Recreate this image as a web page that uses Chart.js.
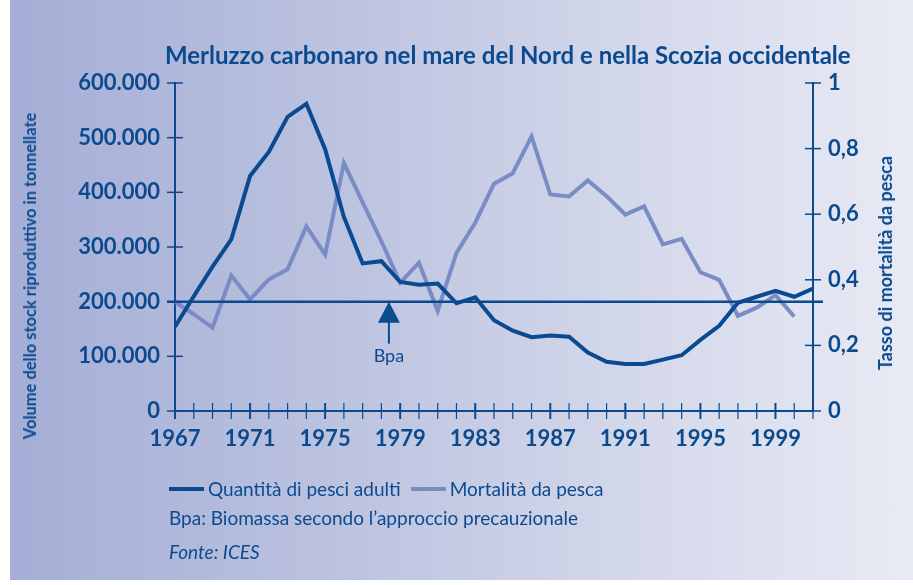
<!DOCTYPE html>
<html>
<head>
<meta charset="utf-8">
<script src="https://cdn.jsdelivr.net/npm/chart.js@4/dist/chart.umd.min.js"></script>
<style>
  html, body { margin: 0; padding: 0; background: #fff; }
  #wrap { position: relative; width: 913px; height: 585px; overflow: hidden;
          font-family: Lato, "Open Sans", sans-serif; color: #0b4a8f; }
  #panel { position: absolute; left: 10px; top: 0; width: 903px; height: 580px;
           background: linear-gradient(to right, #a4aed6 0%, #bbc2df 35%, #d3d7ea 68%, #e8eaf4 100%); }
  #chart { position: absolute; left: 0; top: 0; }
  .title { position: absolute; left: 165px; top: 40px; font-size: 24px; font-weight: 700; white-space: nowrap; }
  .ytitle { position: absolute; font-weight: 700; white-space: nowrap;
            transform: translate(-50%, -50%) rotate(-90deg); }
  #legend { position: absolute; left: 169px; top: 477px; display: flex; align-items: center;
            font-size: 19px; white-space: nowrap; }
  #legend .sw { display: inline-block; width: 35px; height: 4px; margin-right: 4px; }
  #legend .item { display: flex; align-items: center; margin-right: 10px; }
  .note { position: absolute; left: 169px; font-size: 19px; white-space: nowrap; }
</style>
</head>
<body>
<div id="wrap">
  <div id="panel"></div>
  <canvas id="chart" width="913" height="585"></canvas>
  <div class="title">Merluzzo carbonaro nel mare del Nord e nella Scozia occidentale</div>
  <div class="ytitle" style="left:30px; top:276px; font-size:16.5px;">Volume dello stock riproduttivo in tonnellate</div>
  <div class="ytitle" style="left:885px; top:263px; font-size:18px;">Tasso di mortalità da pesca</div>
  <div id="legend"></div>
  <div class="note" style="top:506px;">Bpa: Biomassa secondo l’approccio precauzionale</div>
  <div class="note" style="top:540px; font-style:italic;">Fonte: ICES</div>
</div>
<script>
// anni 1967-2001
const years = [1967, 1968, 1969, 1970, 1971, 1972, 1973, 1974, 1975, 1976, 1977, 1978,
  1979, 1980, 1981, 1982, 1983, 1984, 1985, 1986, 1987, 1988, 1989, 1990, 1991, 1992,
  1993, 1994, 1995, 1996, 1997, 1998, 1999, 2000, 2001]

// stock riproduttivo (tonnellate), 1967-2001
const biomass = [154000, 210000, 264000, 314000, 430000, 474000, 538000, 562000, 479000,
  355000, 270000, 274000, 236000, 231000, 233000, 197000, 208000, 166000, 147000, 135000,
  138000, 136000, 107000, 90000, 86000, 86000, 94000, 102000, 130000, 156000, 198000,
  209000, 220000, 209000, 224000]

// mortalita da pesca, 1967-2000
const mortality = [0.333, 0.295, 0.254, 0.413, 0.340, 0.401, 0.432, 0.563, 0.477, 0.756,
  0.636, 0.517, 0.391, 0.452, 0.305, 0.482, 0.574, 0.693, 0.725, 0.837, 0.660, 0.654,
  0.703, 0.655, 0.599, 0.624, 0.508, 0.525, 0.423, 0.400, 0.290, 0.315, 0.353, 0.288]

const yearLabels = [1967, 1971, 1975, 1979, 1983, 1987, 1991, 1995, 1999]
const BPA = 200000
const BPA_ARROW_YEAR = 1978.4

const DARK = '#0a4a91'
const LIGHT = '#7a8cc5'
const INK = '#0b4a8f'
const tickFont = { family: 'Lato', size: 22, weight: 'bold' }

// tacche che attraversano gli assi, linea Bpa e freccia
const extras = {
  id: 'extras',
  afterDatasetsDraw(chart) {
    const { ctx, chartArea: a, scales: { x, y, y1 } } = chart
    ctx.save()
    ctx.strokeStyle = INK
    ctx.fillStyle = INK

    const seg = (x0, y0, x2, y2) => { ctx.beginPath(); ctx.moveTo(x0, y0); ctx.lineTo(x2, y2); ctx.stroke() }

    x.ticks.forEach(t => {
      const px = x.getPixelForValue(t.value)
      ctx.lineWidth = yearLabels.includes(t.value) ? 2 : 1.2
      seg(px, a.bottom - 8, px, a.bottom + 8)
    })
    ctx.lineWidth = 1.5
    y.ticks.forEach(t => {
      const py = y.getPixelForValue(t.value)
      seg(a.left - 8, py, a.left + 8, py)
    })
    y1.ticks.forEach(t => {
      const py = y1.getPixelForValue(t.value)
      seg(a.right - 8, py, a.right + 8, py)
    })

    const by = y.getPixelForValue(BPA)
    ctx.lineWidth = 2.5
    seg(a.left - 8, by, a.right + 10, by)

    const ax = x.getPixelForValue(BPA_ARROW_YEAR)
    ctx.beginPath()
    ctx.moveTo(ax, by)
    ctx.lineTo(ax + 11, by + 21)
    ctx.lineTo(ax - 11, by + 21)
    ctx.closePath()
    ctx.fill()
    ctx.lineWidth = 2
    seg(ax, by + 20, ax, by + 42)

    ctx.font = '18px Lato'
    ctx.textAlign = 'center'
    ctx.textBaseline = 'middle'
    ctx.fillText('Bpa', ax, by + 55)
    ctx.restore()
  }
}

const chart = new Chart(document.getElementById('chart'), {
  type: 'line',
  data: {
    datasets: [
      {
        label: 'Quantità di pesci adulti',
        data: years.map((yr, i) => ({ x: yr, y: biomass[i] })),
        borderColor: DARK,
        borderWidth: 4,
        pointRadius: 0,
        tension: 0,
        yAxisID: 'y',
      },
      {
        label: 'Mortalità da pesca',
        data: mortality.map((v, i) => ({ x: years[i], y: v })),
        borderColor: LIGHT,
        borderWidth: 4,
        pointRadius: 0,
        tension: 0,
        yAxisID: 'y1',
      },
    ],
  },
  options: {
    responsive: false,
    animation: false,
    layout: { padding: { top: 83, left: 0, right: 0, bottom: 0 } },
    plugins: { legend: { display: false }, tooltip: { enabled: false } },
    scales: {
      x: {
        type: 'linear',
        min: 1967,
        max: 2001,
        afterFit: s => { s.height = 174 },
        grid: { drawOnChartArea: false, drawTicks: false },
        border: { color: INK, width: 2 },
        ticks: {
          stepSize: 1,
          autoSkip: false,
          maxRotation: 0,
          padding: 15,
          color: INK,
          font: tickFont,
          callback: v => yearLabels.includes(v) ? String(v) : '',
        },
      },
      y: {
        position: 'left',
        min: 0,
        max: 600000,
        afterFit: s => { s.width = 175 },
        grid: { drawOnChartArea: false, drawTicks: false },
        border: { color: INK, width: 2 },
        ticks: {
          stepSize: 100000,
          padding: 15,
          color: INK,
          font: tickFont,
          callback: v => v === 0 ? '0' : (v / 1000) + '.000',
        },
      },
      y1: {
        position: 'right',
        min: 0,
        max: 1,
        afterFit: s => { s.width = 100 },
        grid: { drawOnChartArea: false, drawTicks: false },
        border: { color: INK, width: 2 },
        ticks: {
          stepSize: 0.2,
          padding: 15,
          color: INK,
          font: tickFont,
          callback: v => String(Math.round(v * 10) / 10).replace('.', ','),
        },
      },
    },
  },
  plugins: [extras],
})

// legenda
const legend = document.getElementById('legend')
chart.data.datasets.forEach(ds => {
  const item = document.createElement('span')
  item.className = 'item'
  const sw = document.createElement('span')
  sw.className = 'sw'
  sw.style.background = ds.borderColor
  item.appendChild(sw)
  item.appendChild(document.createTextNode(ds.label))
  legend.appendChild(item)
})
</script>
</body>
</html>
